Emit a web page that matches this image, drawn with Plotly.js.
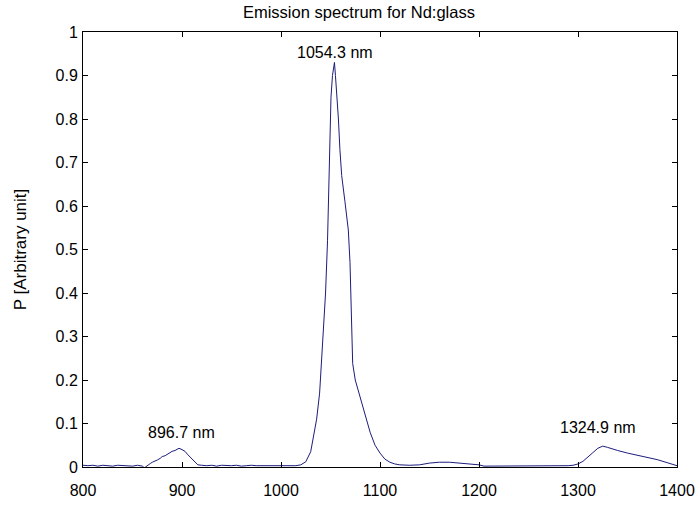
<!DOCTYPE html>
<html><head><meta charset="utf-8">
<script src="https://cdn.plot.ly/plotly-3.0.1.min.js"></script>
<style>body{margin:0;background:#fff}#plot{width:697px;height:528px}</style>
</head><body><div id="plot"></div>
<script>
const wavelength = [800,805,810,815,820,825,830,835,840,845,850,855,860,862,865,868,870,873,875,878,880,883,885,888,890,893,895,897,900,903,906,910,913,916,920,925,930,935,940,945,950,955,960,965,970,975,980,985,990,995,1000,1005,1010,1015,1020,1025,1030,1033,1036,1039,1041,1043,1045,1047,1048.5,1049.5,1050.5,1052,1053,1054,1055,1057,1058,1059.5,1061.3,1064.6,1068,1069.7,1070.7,1071.4,1072.4,1075,1078,1082.5,1086,1090,1095,1100,1105,1110,1115,1120,1130,1140,1150,1160,1170,1180,1190,1195,1200,1205,1220,1240,1260,1280,1290,1295,1300,1305,1310,1315,1320,1325,1330,1335,1340,1350,1360,1370,1380,1390,1400];
const power = [0.004,0.003,0.004,0.002,0.004,0.003,0.002,0.004,0.003,0.003,0.002,0.004,0.002,-0.002,0.004,0.008,0.011,0.013,0.016,0.02,0.024,0.026,0.029,0.033,0.036,0.038,0.041,0.043,0.040,0.036,0.028,0.018,0.010,0.005,0.004,0.003,0.004,0.002,0.004,0.003,0.003,0.004,0.002,0.003,0.004,0.003,0.003,0.002,0.003,0.003,0.003,0.002,0.003,0.003,0.005,0.012,0.035,0.07,0.11,0.17,0.24,0.31,0.40,0.52,0.66,0.78,0.85,0.90,0.92,0.93,0.90,0.84,0.80,0.73,0.67,0.61,0.545,0.47,0.39,0.315,0.238,0.20,0.177,0.139,0.11,0.08,0.05,0.032,0.018,0.011,0.007,0.005,0.004,0.005,0.009,0.011,0.011,0.009,0.008,0.007,0.005,0.002,0.002,0.002,0.002,0.002,0.003,0.004,0.007,0.013,0.022,0.033,0.043,0.048,0.045,0.041,0.038,0.032,0.027,0.022,0.017,0.010,0.003];
const xTicks = [800,900,1000,1100,1200,1300,1400];
const yTicks = [0,0.1,0.2,0.3,0.4,0.5,0.6,0.7,0.8,0.9,1];
const yTickLabels = ['0','0.1','0.2','0.3','0.4','0.5','0.6','0.7','0.8','0.9','1'];
const peakX = [899, 1054.5, 1320.2];
const peakY = [0.080, 0.953, 0.090];
const peakLabels = ['896.7 nm','1054.3 nm','1324.9 nm'];

const font = {family:'"Liberation Sans", Arial, sans-serif', size:16, color:'#000'};
const trace = {x:wavelength, y:power, type:'scatter', mode:'lines',
  line:{color:'#1c1c7c', width:1}, hoverinfo:'skip'};
const annotations = peakLabels.map((t,i)=>({x:peakX[i], y:peakY[i], text:t, showarrow:false,
  xref:'x', yref:'y', font:font, xanchor:'center', yanchor:'middle'}));
const axisCommon = {showgrid:false, zeroline:false, showline:true, linecolor:'#000', linewidth:1,
  mirror:'allticks', ticks:'inside', ticklen:5, tickcolor:'#000', tickfont:font};
const layout = {
  width:697, height:528,
  margin:{l:83, r:20, t:32, b:61},
  paper_bgcolor:'#fff', plot_bgcolor:'#fff',
  showlegend:false,
  title:{text:'Emission spectrum for Nd:glass', font:Object.assign({}, font, {size:16.5}), x:0.515, xanchor:'center', y:0.977, yanchor:'middle'},
  xaxis:Object.assign({}, axisCommon, {range:[800,1400], tickvals:xTicks, ticktext:xTicks.map(String), ticklabelstandoff:9}),
  yaxis:Object.assign({}, axisCommon, {range:[0,1], tickvals:yTicks, ticktext:yTickLabels, ticklabelstandoff:1,
    title:{text:'P [Arbitrary unit]', font:Object.assign({}, font, {size:17}), standoff:24}}),
  annotations:annotations
};
Plotly.newPlot('plot',[trace],layout,{staticPlot:true});
</script></body></html>
